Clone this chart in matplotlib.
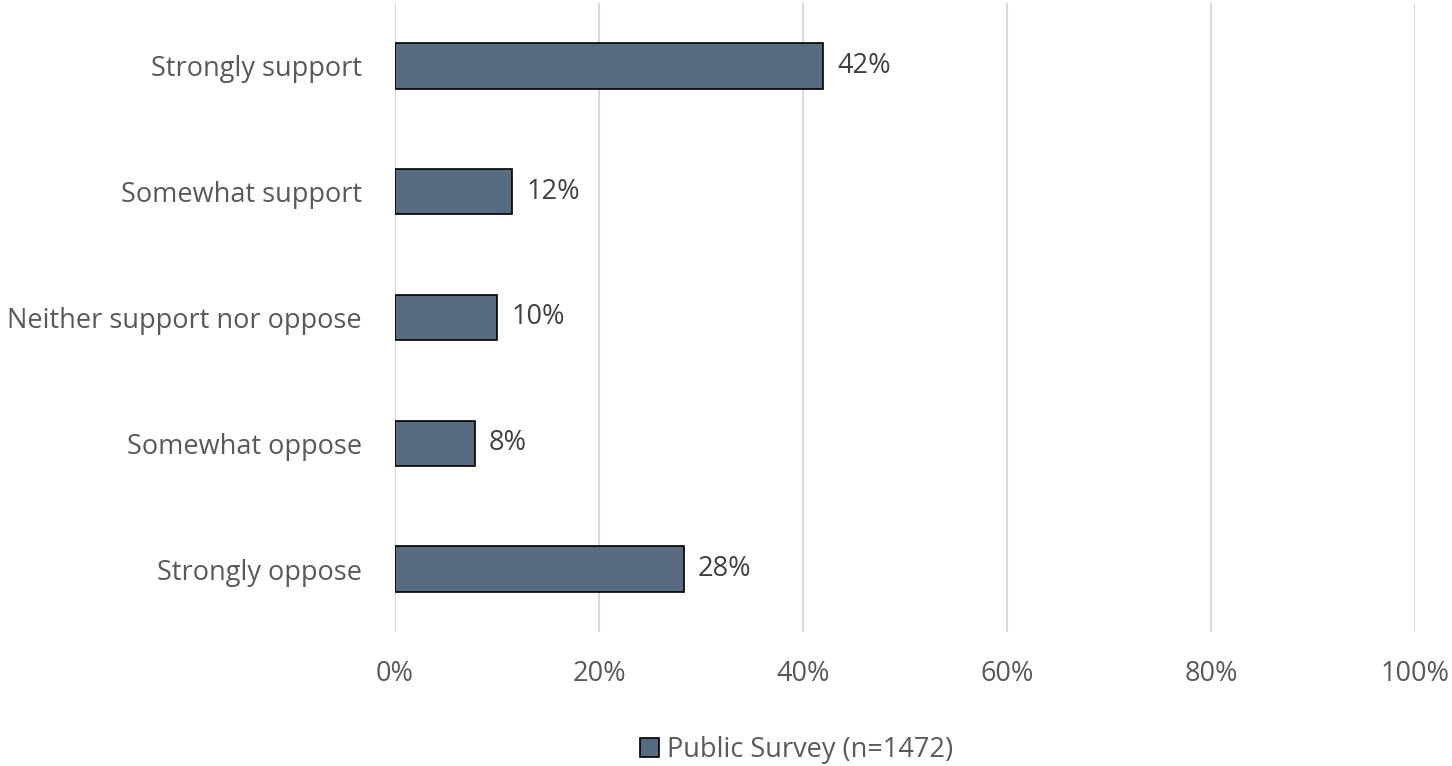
import matplotlib.pyplot as plt
from matplotlib.patches import Patch

# Survey responses
categories = ["Strongly support", "Somewhat support", "Neither support nor oppose",
              "Somewhat oppose", "Strongly oppose"]
values = [42.0, 11.5, 10.0, 7.8, 28.3]
value_labels = ["42%", "12%", "10%", "8%", "28%"]
x_ticks = [0, 20, 40, 60, 80, 100]
series_name = "Public Survey (n=1472)"

bar_color = "#586c81"
fs = 19.5
plt.rcParams['font.family'] = ['Open Sans', 'DejaVu Sans']

fig = plt.figure(figsize=(14.52, 7.66), dpi=100)
ax = fig.add_axes([395 / 1452, 1 - 632 / 766, 1020 / 1452, 629 / 766])

ypos = list(range(len(categories)))
ax.barh(ypos, values, height=0.36, color=bar_color, edgecolor="black", linewidth=1.2, zorder=3)

for y, v, lab in zip(ypos, values, value_labels):
    ax.text(v + 1.4, y, lab, va="center", ha="left", fontsize=fs, color="#404040")

ax.set_yticks(ypos)
ax.set_yticklabels(categories, fontsize=fs, color="#595959")
ax.set_ylim(len(categories) - 0.5, -0.5)

ax.set_xlim(0, 100)
ax.set_xticks(x_ticks)
ax.set_xticklabels([f"{t}%" for t in x_ticks], fontsize=fs, color="#595959")
ax.xaxis.grid(True, color="#d9d9d9", linewidth=1.5, zorder=0)

for s in ax.spines.values():
    s.set_visible(False)
ax.tick_params(axis="both", length=0)
ax.tick_params(axis="y", pad=24)
ax.tick_params(axis="x", pad=20)

fig.legend(handles=[Patch(facecolor=bar_color, edgecolor="black", linewidth=1.2, label=series_name)],
           loc="center", bbox_to_anchor=(797 / 1452, 1 - 750 / 766), frameon=False,
           fontsize=fs, labelcolor="#595959", handlelength=0.7, handleheight=0.7, handletextpad=0.3)

fig.savefig("out.png", dpi=100)
